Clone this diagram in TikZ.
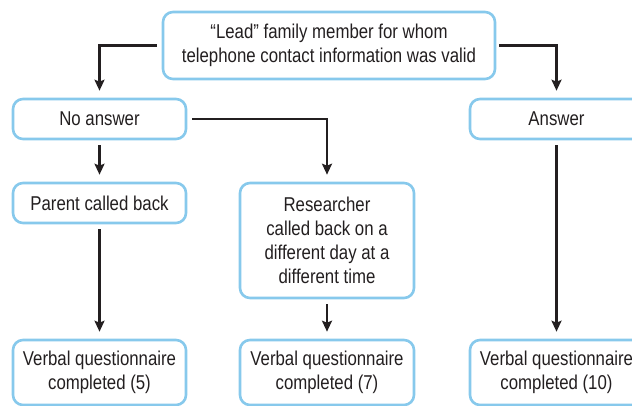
\documentclass[tikz,border=0pt]{standalone}
\usepackage{fontspec}
\setmainfont[FakeStretch=0.84]{Liberation Sans}
\usetikzlibrary{arrows.meta}
\definecolor{boxblue}{RGB}{135,201,236}
\definecolor{inkgray}{RGB}{35,31,32}
\begin{document}
\begin{tikzpicture}[x=1pt,y=-1pt,
  flowbox/.style={draw=boxblue,line width=2.6pt,rounded corners=10pt,fill=white,
    align=center,text=inkgray,font=\fontsize{20}{24}\selectfont,inner sep=0pt},
  link/.style={line width=2.3pt,draw=inkgray,
    -{Stealth[length=11pt,width=10pt,inset=2pt]},shorten <=5pt,shorten >=7pt}]
\useasboundingbox (0,0) rectangle (632,406);
\clip (0,0) rectangle (632,406);

% boxes
\node[flowbox,minimum width=332pt,minimum height=67pt] (lead) at (329,45.5)
  {“Lead” family member for whom\\telephone contact information was valid};
\node[flowbox,minimum width=173pt,minimum height=40pt] (noans) at (99.5,119) {No answer};
\node[flowbox,minimum width=173pt,minimum height=40pt] (ans) at (556.5,119) {Answer};
\node[flowbox,minimum width=173pt,minimum height=40pt] (parent) at (99.5,203) {Parent called back};
\node[flowbox,minimum width=174pt,minimum height=115pt] (research) at (327,240.5)
  {Researcher\\called back on a\\different day at a\\different time};
\node[flowbox,minimum width=173pt,minimum height=65pt] (vq1) at (99.5,372.5)
  {Verbal questionnaire\\completed (5)};
\node[flowbox,minimum width=174pt,minimum height=65pt] (vq2) at (327,372.5)
  {Verbal questionnaire\\completed (7)};
\node[flowbox,minimum width=173pt,minimum height=65pt] (vq3) at (556.5,372.5)
  {Verbal questionnaire\\completed (10)};

% connectors
\draw[link] (lead.west) -| (noans.north);
\draw[link,shorten <=3pt] (lead.east) -| (ans.north);
\draw[link] (noans.east) -| (research.north);
\draw[link] (noans.south) -- (parent.north);
\draw[link] (parent.south) -- (vq1.north);
\draw[link] (research.south) -- (vq2.north);
\draw[link] (ans.south) -- (vq3.north);
\end{tikzpicture}
\end{document}
